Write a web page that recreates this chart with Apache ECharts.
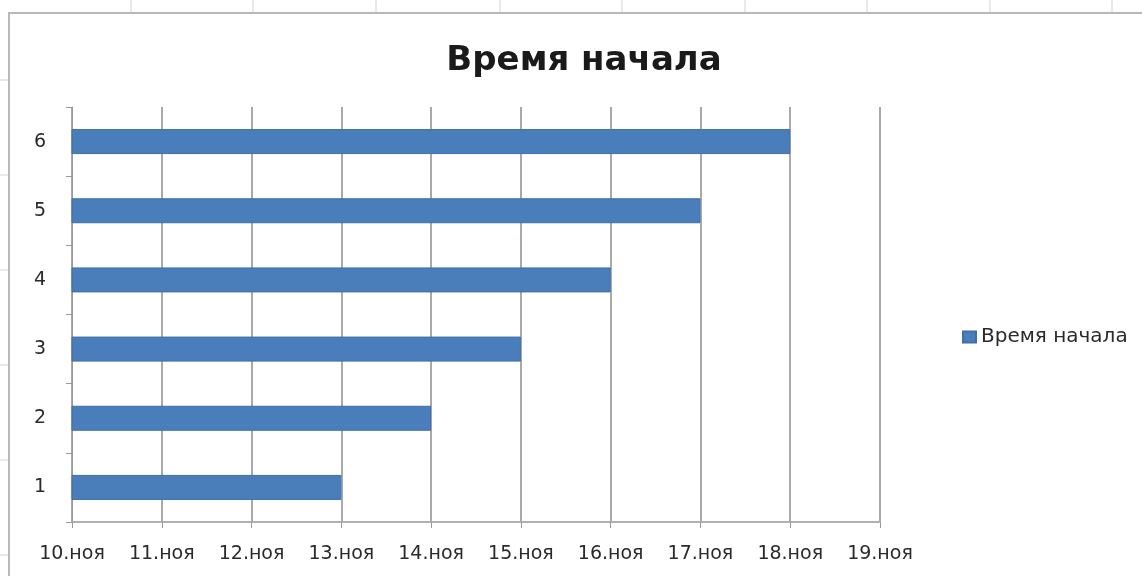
<!DOCTYPE html>
<html><head><meta charset="utf-8">
<script src="https://cdn.jsdelivr.net/npm/echarts@6/dist/echarts.min.js"></script>
<style>html,body{margin:0;padding:0;background:#fff}#c{width:1142px;height:576px}</style>
</head><body><div id="c"></div>
<script>
const categories = ['1', '2', '3', '4', '5', '6'];
const startDay = [13, 14, 15, 16, 17, 18];
const tickDays = [10, 11, 12, 13, 14, 15, 16, 17, 18, 19];
const tickLabels = ['10.ноя', '11.ноя', '12.ноя', '13.ноя', '14.ноя', '15.ноя', '16.ноя', '17.ноя', '18.ноя', '19.ноя'];
const seriesName = 'Время начала';

const chart = echarts.init(document.getElementById('c'), null, {renderer: 'canvas'});
const sheetCols = [131, 253, 376, 500, 622, 745, 867, 990, 1112];
const graphics = [
  {type: 'rect', shape: {x: 9, y: 13, width: 1140, height: 580}, style: {fill: 'none', stroke: '#b8b8b8', lineWidth: 2}, z: 10},
];
sheetCols.forEach(x => graphics.push({type: 'line', shape: {x1: x, y1: 0, x2: x, y2: 12}, style: {stroke: '#d4d4d4', lineWidth: 1}}));
[80, 175, 270, 365, 460, 555].forEach(y => graphics.push({type: 'line', shape: {x1: 0, y1: y, x2: 8, y2: y}, style: {stroke: '#d4d4d4', lineWidth: 1}}));

const labelFont = {fontFamily: 'DejaVu Sans', fontSize: 19, color: '#2a2a2a'};

chart.setOption({
  animation: false,
  backgroundColor: '#fff',
  graphic: graphics,
  title: {
    text: 'Время начала', left: 579, top: 39, textAlign: 'center',
    textStyle: {fontFamily: 'DejaVu Sans', fontWeight: 'bold', fontSize: 34, color: '#1a1a1a'}
  },
  legend: {
    data: [seriesName], left: 957, top: 322, itemWidth: 13, itemHeight: 11, itemGap: 6,
    icon: 'rect',
    textStyle: Object.assign({}, labelFont, {fontSize: 20})
  },
  grid: {left: 72, right: 262, top: 107, bottom: 54, containLabel: false},
  xAxis: {
    type: 'value', min: 10, max: 19, interval: 1,
    axisLine: {show: true, lineStyle: {color: '#b0b0b0', width: 2}},
    axisTick: {show: true, length: 6, lineStyle: {color: '#999'}},
    splitLine: {show: true, lineStyle: {color: '#8c8c8c', width: 1.5}},
    axisLabel: Object.assign({
      margin: 23,
      formatter: v => { const i = tickDays.indexOf(v); return i >= 0 ? tickLabels[i] : ''; }
    }, labelFont)
  },
  yAxis: {
    type: 'category', data: categories, boundaryGap: true,
    axisLine: {show: true, lineStyle: {color: '#999', width: 1}},
    axisTick: {show: true, length: 6, lineStyle: {color: '#999'}},
    splitLine: {show: false},
    axisLabel: Object.assign({margin: 26, padding: [4, 0, 0, 0]}, labelFont)
  },
  series: [{
    name: seriesName, type: 'bar', data: startDay, barWidth: 25,
    itemStyle: {color: '#4a7ebb', borderColor: '#3f6fa8', borderWidth: 1}
  }]
});
</script></body></html>
